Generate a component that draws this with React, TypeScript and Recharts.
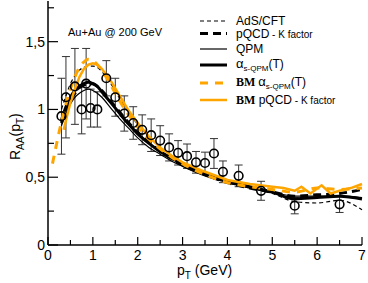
import React from 'react';
import { ComposedChart, Line, Scatter, ErrorBar, XAxis, YAxis } from 'recharts';

// measured R_AA points (PHENIX-like)
const ptData = [0.3, 0.4, 0.6, 0.75, 0.85, 0.95, 1.1, 1.3, 1.5, 1.7, 1.9, 2.1, 2.3, 2.5, 2.7, 2.9, 3.1, 3.3, 3.5, 3.7, 3.9, 4.25, 4.75, 5.5, 6.5];
const raaData = [0.95, 1.09, 1.17, 1.0, 1.19, 1.01, 1.0, 1.23, 1.09, 0.97, 0.9, 0.85, 0.81, 0.77, 0.72, 0.68, 0.655, 0.61, 0.605, 0.675, 0.54, 0.51, 0.4, 0.29, 0.3];
const raaErr = [0.28, 0.3, 0.28, 0.18, 0.26, 0.14, 0.13, 0.13, 0.14, 0.13, 0.12, 0.11, 0.12, 0.11, 0.1, 0.09, 0.09, 0.08, 0.08, 0.11, 0.08, 0.08, 0.07, 0.06, 0.06];

// model curves
const ptCurve = [0.3, 0.4, 0.5, 0.6, 0.7, 0.8, 0.9, 1.0, 1.1, 1.2, 1.4, 1.6, 1.8, 2.0, 2.25, 2.5, 2.75, 3.0, 3.5, 4.0, 4.5, 5.0, 5.5, 6.0, 6.5, 7.0];
const adsCft = [1.0, 1.1, 1.19, 1.25, 1.29, 1.31, 1.32, 1.32, 1.31, 1.28, 1.19, 1.08, 0.98, 0.89, 0.8, 0.72, 0.66, 0.6, 0.52, 0.46, 0.42, 0.38, 0.32, 0.31, 0.33, 0.26];
const pqcdK = [0.9, 1.0, 1.07, 1.12, 1.16, 1.18, 1.19, 1.19, 1.17, 1.14, 1.06, 0.98, 0.9, 0.83, 0.76, 0.69, 0.64, 0.59, 0.52, 0.46, 0.42, 0.39, 0.36, 0.37, 0.38, 0.41];
const qpm = [0.88, 0.97, 1.04, 1.09, 1.12, 1.14, 1.15, 1.14, 1.12, 1.09, 1.01, 0.93, 0.86, 0.79, 0.72, 0.67, 0.62, 0.58, 0.51, 0.46, 0.42, 0.39, 0.36, 0.36, 0.36, 0.35];
const alphaQpm = [0.92, 1.02, 1.09, 1.14, 1.17, 1.19, 1.2, 1.19, 1.17, 1.13, 1.05, 0.97, 0.89, 0.82, 0.75, 0.69, 0.64, 0.6, 0.53, 0.47, 0.43, 0.39, 0.34, 0.35, 0.36, 0.34];

const ptBmAlpha = [0.1, 0.2, 0.3, 0.4, 0.5, 0.6, 0.7, 0.8, 0.9, 1.0, 1.1, 1.2, 1.4, 1.6, 1.8, 2.0, 2.25, 2.5, 2.75, 3.0, 3.5, 4.0, 4.5, 5.0, 5.5, 6.0, 6.5, 7.0];
const bmAlpha = [0.6, 0.76, 0.91, 1.04, 1.15, 1.24, 1.31, 1.35, 1.37, 1.36, 1.33, 1.29, 1.18, 1.06, 0.96, 0.87, 0.78, 0.71, 0.65, 0.6, 0.52, 0.46, 0.43, 0.41, 0.39, 0.42, 0.41, 0.42];

const ptBmPqcd = [0.35, 0.4, 0.5, 0.6, 0.7, 0.8, 0.9, 1.0, 1.1, 1.2, 1.4, 1.6, 1.8, 2.0, 2.25, 2.5, 2.75, 3.0, 3.5, 4.0, 4.5, 5.0, 5.25, 5.5, 5.65, 5.85, 6.1, 6.3, 6.5, 6.75, 7.0];
const bmPqcd = [0.85, 0.92, 1.05, 1.15, 1.24, 1.3, 1.33, 1.34, 1.33, 1.3, 1.21, 1.1, 0.99, 0.9, 0.8, 0.72, 0.66, 0.61, 0.54, 0.48, 0.45, 0.43, 0.42, 0.4, 0.43, 0.38, 0.44, 0.38, 0.4, 0.42, 0.45];

const xTicks = [0, 0.5, 1, 1.5, 2, 2.5, 3, 3.5, 4, 4.5, 5, 5.5, 6, 6.5, 7];
const yTicks = [0, 0.25, 0.5, 0.75, 1, 1.25, 1.5, 1.75];

const zip = (xs: number[], ys: number[]) => xs.map((x, i) => ({ x, y: ys[i] }));

const points = ptData.map((x, i) => ({ x, y: raaData[i], err: raaErr[i] }));

const ORANGE = '#FFA500';
const FONT = '"Liberation Sans", Arial, Helvetica, sans-serif';
const SERIF = '"Liberation Serif", "Times New Roman", serif';

const fmtY = (v: number) => String(v).replace('.', ',');

const BottomTick = (p: any) => {
  const v = p.payload.value;
  const major = v % 1 === 0;
  return (
    <g>
      <line x1={p.x} x2={p.x} y1={p.y} y2={p.y - (major ? 8 : 5)} stroke="#000" strokeWidth={1.2} />
      {major && (
        <text x={p.x} y={p.y + 15} textAnchor="middle" fontSize={14} fontFamily={FONT} fill="#000">
          {v}
        </text>
      )}
    </g>
  );
};

const TopTick = (p: any) => {
  const major = p.payload.value % 1 === 0;
  return <line x1={p.x} x2={p.x} y1={p.y} y2={p.y + (major ? 8 : 5)} stroke="#000" strokeWidth={1.2} />;
};

const LeftTick = (p: any) => {
  const v = p.payload.value;
  const major = Math.abs(v * 2 - Math.round(v * 2)) < 1e-6;
  return (
    <g>
      <line x1={p.x} x2={p.x + (major ? 10 : 6)} y1={p.y} y2={p.y} stroke="#000" strokeWidth={1.2} />
      {major && (
        <text x={p.x - 3} y={p.y + 5} textAnchor="end" fontSize={14} fontFamily={FONT} fill="#000">
          {fmtY(v)}
        </text>
      )}
    </g>
  );
};

const RightTick = (p: any) => {
  const v = p.payload.value;
  const major = Math.abs(v * 2 - Math.round(v * 2)) < 1e-6;
  return <line x1={p.x} x2={p.x - (major ? 10 : 6)} y1={p.y} y2={p.y} stroke="#000" strokeWidth={1.2} />;
};

const Circle = (p: any) => (
  <circle cx={p.cx} cy={p.cy} r={4.3} fill="none" stroke="#000" strokeWidth={1.6} />
);

const legendRows = [
  { y: 21, stroke: '#000', w: 1.2, dash: '4 3' },
  { y: 33.5, stroke: '#000', w: 3, dash: '8 5' },
  { y: 49, stroke: '#000', w: 1.2, dash: undefined },
  { y: 65, stroke: '#000', w: 3, dash: undefined },
  { y: 83, stroke: ORANGE, w: 3, dash: '8 7' },
  { y: 100, stroke: ORANGE, w: 2.5, dash: undefined },
];

const Overlay = () => (
  <svg width={368} height={283} style={{ position: 'absolute', left: 0, top: 0, pointerEvents: 'none' }}>
    <text x={68} y={36} fontSize={11} fontFamily={FONT} fill="#000">Au+Au @ 200 GeV</text>
    {legendRows.map((r, i) => (
      <line key={i} x1={200} x2={227} y1={r.y} y2={r.y} stroke={r.stroke} strokeWidth={r.w} strokeDasharray={r.dash} />
    ))}
    <g fontFamily={FONT} fill="#000">
      <text x={236} y={25} fontSize={12}>AdS/CFT</text>
      <text x={236} y={37.5} fontSize={12}>pQCD<tspan fontSize={10}> - K factor</tspan></text>
      <text x={236} y={53} fontSize={12}>QPM</text>
      <text x={236} y={68} fontSize={13}>α<tspan fontSize={8} dy={3}>s-QPM</tspan><tspan fontSize={12} dy={-3}>(T)</tspan></text>
      <text x={236} y={86} fontSize={13}>
        <tspan fontFamily={SERIF} fontWeight="bold" fontSize={12}>BM </tspan>α<tspan fontSize={8} dy={3}>s-QPM</tspan><tspan fontSize={12} dy={-3}>(T)</tspan>
      </text>
      <text x={236} y={104} fontSize={12}>
        <tspan fontFamily={SERIF} fontWeight="bold">BM</tspan> pQCD<tspan fontSize={10}> - K factor</tspan>
      </text>
    </g>
    <text x={177} y={275} fontSize={14} fontFamily={FONT} fill="#000">
      p<tspan fontSize={10} dy={4}>T</tspan><tspan dy={-4}> (GeV)</tspan>
    </text>
    <text transform="translate(20,160) rotate(-90)" fontSize={14} fontFamily={FONT} fill="#000">
      R<tspan fontSize={10} dy={4}>AA</tspan><tspan dy={-4}>(p</tspan><tspan fontSize={10} dy={4}>T</tspan><tspan dy={-4}>)</tspan>
    </text>
  </svg>
);

export default function App() {
  return (
    <div style={{ position: 'absolute', left: 0, top: 0, width: 368, height: 283, background: '#fff' }}>
      <ComposedChart width={368} height={283} margin={{ top: 1, right: 6, left: 0, bottom: 0 }}>
        <XAxis xAxisId="b" dataKey="x" type="number" domain={[0, 7]} ticks={xTicks} height={38}
          axisLine={{ stroke: '#000', strokeWidth: 1.5 }} tickLine={false} tickSize={0} tickMargin={0} tick={BottomTick} interval={0} />
        <XAxis xAxisId="t" dataKey="x" type="number" orientation="top" domain={[0, 7]} ticks={xTicks} height={0}
          axisLine={{ stroke: '#000', strokeWidth: 1.5 }} tickLine={false} tickSize={0} tickMargin={0} tick={TopTick} interval={0} />
        <YAxis yAxisId="l" type="number" domain={[0, 1.8]} ticks={yTicks} width={48}
          axisLine={{ stroke: '#000', strokeWidth: 1.5 }} tickLine={false} tickSize={0} tickMargin={0} tick={LeftTick} interval={0} />
        <YAxis yAxisId="r" type="number" orientation="right" domain={[0, 1.8]} ticks={yTicks} width={0}
          axisLine={{ stroke: '#000', strokeWidth: 1.5 }} tickLine={false} tickSize={0} tickMargin={0} tick={RightTick} interval={0} />

        <Scatter xAxisId="b" yAxisId="l" data={points} dataKey="y" shape={Circle} isAnimationActive={false}>
          <ErrorBar dataKey="err" direction="y" width={4} stroke="#333" strokeWidth={1} />
        </Scatter>

        <Line xAxisId="b" yAxisId="l" data={zip(ptCurve, adsCft)} dataKey="y" type="monotone" stroke="#000" strokeWidth={1.2} strokeDasharray="4 3" dot={false} isAnimationActive={false} />
        <Line xAxisId="b" yAxisId="l" data={zip(ptCurve, qpm)} dataKey="y" type="monotone" stroke="#000" strokeWidth={1.2} dot={false} isAnimationActive={false} />
        <Line xAxisId="b" yAxisId="l" data={zip(ptCurve, pqcdK)} dataKey="y" type="monotone" stroke="#000" strokeWidth={3} strokeDasharray="8 5" dot={false} isAnimationActive={false} />
        <Line xAxisId="b" yAxisId="l" data={zip(ptCurve, alphaQpm)} dataKey="y" type="monotone" stroke="#000" strokeWidth={3} dot={false} isAnimationActive={false} />
        <Line xAxisId="b" yAxisId="l" data={zip(ptBmPqcd, bmPqcd)} dataKey="y" type="linear" stroke={ORANGE} strokeWidth={2.5} dot={false} isAnimationActive={false} />
        <Line xAxisId="b" yAxisId="l" data={zip(ptBmAlpha, bmAlpha)} dataKey="y" type="monotone" stroke={ORANGE} strokeWidth={3} strokeDasharray="8 7" dot={false} isAnimationActive={false} />
      </ComposedChart>
      <Overlay />
    </div>
  );
}
